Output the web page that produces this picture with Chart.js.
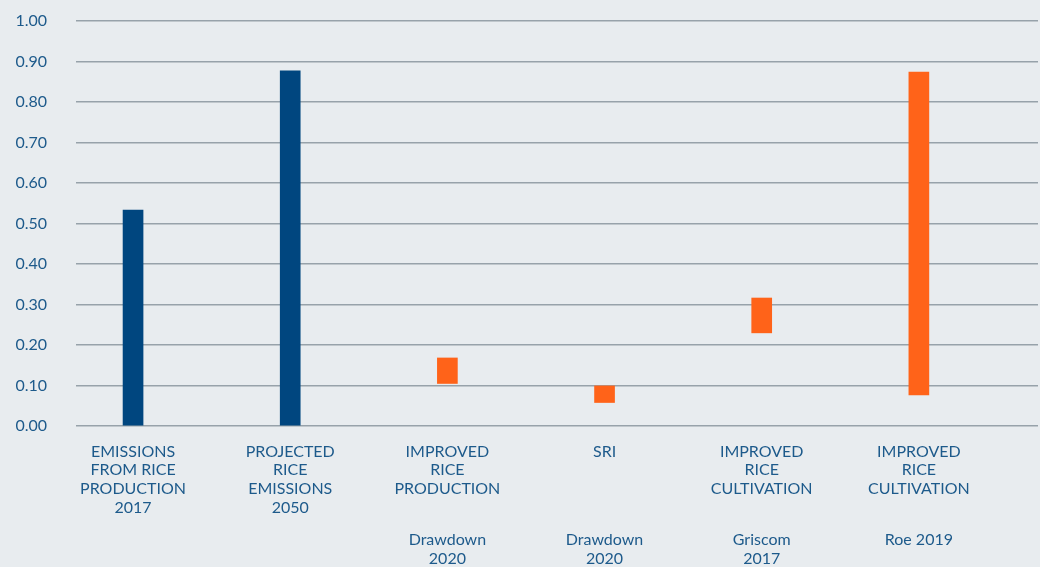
<!DOCTYPE html>
<html>
<head>
<meta charset="utf-8">
<script src="https://cdn.jsdelivr.net/npm/chart.js@4/dist/chart.umd.min.js"></script>
<style>
  html, body { margin: 0; padding: 0; background: #e8ecef; }
  #wrap { width: 1040px; height: 567px; position: relative; }
</style>
</head>
<body>
<div id="wrap"><canvas id="c" width="1040" height="567"></canvas></div>
<script>
const categories = [
  ["EMISSIONS", "FROM RICE", "PRODUCTION", "2017"],
  ["PROJECTED", "RICE", "EMISSIONS", "2050"],
  ["IMPROVED", "RICE", "PRODUCTION"],
  ["SRI"],
  ["IMPROVED", "RICE", "CULTIVATION"],
  ["IMPROVED", "RICE", "CULTIVATION"]
];
const sources = [
  [""],
  [""],
  ["Drawdown", "2020"],
  ["Drawdown", "2020"],
  ["Griscom", "2017"],
  ["Roe 2019"]
];
const lowValues  = [0.00, 0.00, 0.105, 0.058, 0.230, 0.077];
const highValues = [0.533, 0.877, 0.168, 0.099, 0.316, 0.874];
const barColors  = ["#00467f", "#00467f", "#ff6319", "#ff6319", "#ff6319", "#ff6319"];
const yTicks = [0, 0.1, 0.2, 0.3, 0.4, 0.5, 0.6, 0.7, 0.8, 0.9, 1.0];

const textColor = "#1d5a8b";
const gridColor = "#97a2aa";
const fontFamily = "Lato, 'Open Sans', sans-serif";

const bgPlugin = {
  id: 'bg',
  beforeDraw(chart) {
    const ctx = chart.ctx;
    ctx.save();
    ctx.fillStyle = '#e8ecef';
    ctx.fillRect(0, 0, chart.width, chart.height);
    ctx.restore();
  }
};

const idxTicks = s => { s.ticks = categories.map((_, i) => ({ value: i })); };

new Chart(document.getElementById('c'), {
  type: 'bar',
  data: {
    datasets: [{
      data: categories.map((c, i) => ({ x: i, y: [lowValues[i], highValues[i]] })),
      backgroundColor: barColors,
      borderWidth: 0,
      barThickness: 20
    }]
  },
  options: {
    responsive: false,
    animation: false,
    layout: { padding: { top: 21, right: 2, left: 0, bottom: 0 } },
    plugins: { legend: { display: false }, tooltip: { enabled: false } },
    scales: {
      x: {
        type: 'linear',
        position: 'bottom',
        weight: 0,
        offset: false,
        min: -0.363,
        max: 5.758,
        afterBuildTicks: idxTicks,
        afterFit: s => { s.height = 104; },
        grid: { display: false, drawTicks: false, offset: false },
        border: { display: false },
        ticks: {
          autoSkip: false,
          maxRotation: 0,
          padding: 16,
          color: textColor,
          font: { family: fontFamily, size: 16, lineHeight: 1.17 },
          callback: v => categories[v]
        }
      },
      x2: {
        type: 'linear',
        position: 'bottom',
        weight: 1,
        offset: false,
        min: -0.363,
        max: 5.758,
        afterBuildTicks: idxTicks,
        afterFit: s => { s.height = 37; },
        grid: { display: false, drawTicks: false, offset: false },
        border: { display: false },
        ticks: {
          autoSkip: false,
          maxRotation: 0,
          padding: 0,
          color: textColor,
          font: { family: fontFamily, size: 16, lineHeight: 1.19 },
          callback: v => sources[v]
        }
      },
      y: {
        min: 0,
        max: 1,
        afterBuildTicks: s => { s.ticks = yTicks.map(v => ({ value: v })); },
        afterFit: s => { s.width = 76; s.paddingTop = 0; s.paddingBottom = 0; },
        grid: { color: gridColor, lineWidth: 1.6, drawTicks: false },
        border: { display: false },
        ticks: {
          padding: 29,
          color: textColor,
          font: { family: fontFamily, size: 16 },
          callback: v => Number(v).toFixed(2)
        }
      }
    }
  },
  plugins: [bgPlugin]
});
</script>
</body>
</html>
